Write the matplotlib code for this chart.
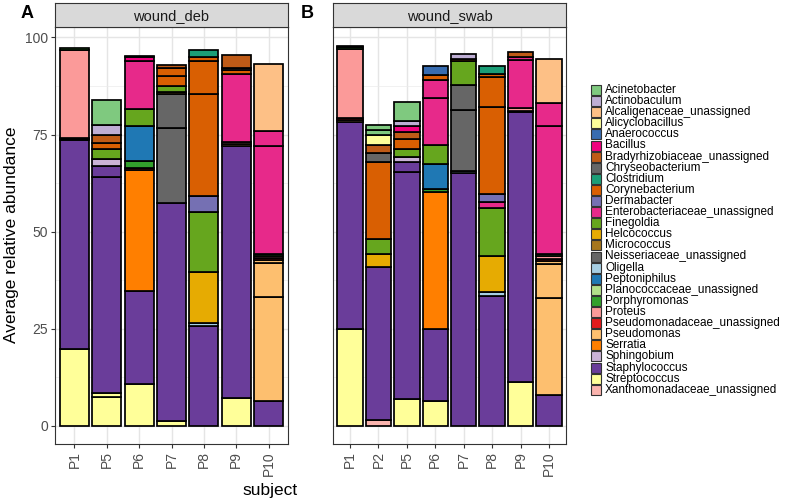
import matplotlib
matplotlib.use('Agg')
import matplotlib.pyplot as plt
from matplotlib.patches import Rectangle
import numpy as np

plt.rcParams['font.family'] = ['Liberation Sans', 'DejaVu Sans']

genera = ['Acinetobacter', 'Actinobaculum', 'Alcaligenaceae_unassigned', 'Alicyclobacillus',
          'Anaerococcus', 'Bacillus', 'Bradyrhizobiaceae_unassigned', 'Chryseobacterium',
          'Clostridium', 'Corynebacterium', 'Dermabacter', 'Enterobacteriaceae_unassigned',
          'Finegoldia', 'Helcococcus', 'Micrococcus', 'Neisseriaceae_unassigned', 'Oligella',
          'Peptoniphilus', 'Planococcaceae_unassigned', 'Porphyromonas', 'Proteus',
          'Pseudomonadaceae_unassigned', 'Pseudomonas', 'Serratia', 'Sphingobium',
          'Staphylococcus', 'Streptococcus', 'Xanthomonadaceae_unassigned']
colors = ['#7FC97F', '#BEAED4', '#FDC086', '#FFFF99', '#386CB0', '#F0027F', '#BF5B17', '#666666',
          '#1B9E77', '#D95F02', '#7570B3', '#E7298A', '#66A61E', '#E6AB02', '#A6761D', '#666666',
          '#A6CEE3', '#1F78B4', '#B2DF8A', '#33A02C', '#FB9A99', '#E31A1C', '#FDBF6F', '#FF7F00',
          '#CAB2D6', '#6A3D9A', '#FFFF99', '#FBB4AE']
gcol = dict(zip(genera, colors))

deb_subjects = ['P1', 'P5', 'P6', 'P7', 'P8', 'P9', 'P10']
swab_subjects = ['P1', 'P2', 'P5', 'P6', 'P7', 'P8', 'P9', 'P10']

# segments bottom -> top, one entry per sample contribution
deb_P1 = [('Streptococcus', 19.8), ('Staphylococcus', 53.8), ('Pseudomonas', 0.3),
          ('Pseudomonadaceae_unassigned', 0.3), ('Proteus', 22.6), ('Porphyromonas', 0.4)]
deb_P5 = [('Streptococcus', 7.4), ('Streptococcus', 1.0), ('Staphylococcus', 55.7),
          ('Staphylococcus', 2.7), ('Sphingobium', 2.0), ('Finegoldia', 2.6),
          ('Corynebacterium', 1.4), ('Bradyrhizobiaceae_unassigned', 2.2),
          ('Actinobaculum', 2.6), ('Acinetobacter', 6.3)]
deb_P6 = [('Streptococcus', 10.8), ('Staphylococcus', 24.0), ('Serratia', 31.1),
          ('Pseudomonadaceae_unassigned', 0.4), ('Porphyromonas', 1.9), ('Peptoniphilus', 8.9),
          ('Finegoldia', 4.5), ('Enterobacteriaceae_unassigned', 12.4), ('Bacillus', 0.9),
          ('Bacillus', 0.3)]
deb_P7 = [('Streptococcus', 1.2), ('Staphylococcus', 56.1), ('Neisseriaceae_unassigned', 19.4),
          ('Neisseriaceae_unassigned', 8.7), ('Micrococcus', 0.5), ('Finegoldia', 1.7),
          ('Corynebacterium', 2.6), ('Corynebacterium', 2.0), ('Bradyrhizobiaceae_unassigned', 0.7)]
deb_P8 = [('Staphylococcus', 25.6), ('Oligella', 0.9), ('Helcococcus', 13.2), ('Finegoldia', 15.4),
          ('Dermabacter', 4.1), ('Corynebacterium', 26.2), ('Corynebacterium', 8.6),
          ('Corynebacterium', 0.9), ('Clostridium', 1.9)]
deb_P9 = [('Streptococcus', 7.1), ('Staphylococcus', 65.0), ('Pseudomonas', 0.5), ('Proteus', 0.5),
          ('Enterobacteriaceae_unassigned', 17.5), ('Corynebacterium', 1.1),
          ('Chryseobacterium', 0.5), ('Bradyrhizobiaceae_unassigned', 3.2)]
deb_P10 = [('Staphylococcus', 6.5), ('Pseudomonas', 26.6), ('Pseudomonas', 8.8), ('Pseudomonas', 0.9),
           ('Pseudomonadaceae_unassigned', 0.5), ('Proteus', 0.5), ('Porphyromonas', 0.5),
           ('Enterobacteriaceae_unassigned', 27.7), ('Enterobacteriaceae_unassigned', 4.0),
           ('Alcaligenaceae_unassigned', 17.1)]

swab_P1 = [('Streptococcus', 24.9), ('Staphylococcus', 53.4), ('Pseudomonas', 0.5),
           ('Pseudomonadaceae_unassigned', 0.4), ('Proteus', 17.9), ('Porphyromonas', 0.4),
           ('Planococcaceae_unassigned', 0.3)]
swab_P2 = [('Xanthomonadaceae_unassigned', 1.4), ('Staphylococcus', 39.6), ('Helcococcus', 3.3),
           ('Finegoldia', 3.8), ('Corynebacterium', 19.8), ('Chryseobacterium', 2.3),
           ('Bradyrhizobiaceae_unassigned', 2.1), ('Alicyclobacillus', 2.5),
           ('Acinetobacter', 1.3), ('Acinetobacter', 1.5)]
swab_P5 = [('Streptococcus', 6.9), ('Staphylococcus', 58.4), ('Staphylococcus', 2.6),
           ('Sphingobium', 1.4), ('Finegoldia', 1.9), ('Corynebacterium', 2.6),
           ('Bradyrhizobiaceae_unassigned', 1.9), ('Bacillus', 1.5), ('Actinobaculum', 1.2),
           ('Acinetobacter', 5.0)]
swab_P6 = [('Streptococcus', 6.4), ('Staphylococcus', 18.5), ('Serratia', 35.3), ('Porphyromonas', 0.7),
           ('Peptoniphilus', 6.5), ('Finegoldia', 4.9), ('Enterobacteriaceae_unassigned', 12.0),
           ('Enterobacteriaceae_unassigned', 4.8), ('Corynebacterium', 1.3), ('Anaerococcus', 2.2)]
swab_P7 = [('Staphylococcus', 65.0), ('Oligella', 0.7), ('Neisseriaceae_unassigned', 15.7),
           ('Neisseriaceae_unassigned', 6.4), ('Finegoldia', 6.2), ('Corynebacterium', 0.5),
           ('Actinobaculum', 1.3)]
swab_P8 = [('Staphylococcus', 33.5), ('Oligella', 1.1), ('Helcococcus', 9.2), ('Finegoldia', 12.4),
           ('Enterobacteriaceae_unassigned', 1.4), ('Dermabacter', 2.1), ('Corynebacterium', 22.5),
           ('Corynebacterium', 7.6), ('Corynebacterium', 0.8), ('Clostridium', 2.0)]
swab_P9 = [('Streptococcus', 11.2), ('Staphylococcus', 69.5), ('Pseudomonas', 0.5), ('Proteus', 0.6),
           ('Enterobacteriaceae_unassigned', 12.4), ('Enterobacteriaceae_unassigned', 0.8),
           ('Bradyrhizobiaceae_unassigned', 1.3)]
swab_P10 = [('Staphylococcus', 8.0), ('Pseudomonas', 24.9), ('Pseudomonas', 8.7), ('Pseudomonas', 0.9),
            ('Pseudomonadaceae_unassigned', 0.6), ('Proteus', 0.6), ('Porphyromonas', 0.6),
            ('Enterobacteriaceae_unassigned', 32.9), ('Enterobacteriaceae_unassigned', 5.9),
            ('Alcaligenaceae_unassigned', 11.4)]

deb_bars = [deb_P1, deb_P5, deb_P6, deb_P7, deb_P8, deb_P9, deb_P10]
swab_bars = [swab_P1, swab_P2, swab_P5, swab_P6, swab_P7, swab_P8, swab_P9, swab_P10]

W, H = 790, 501
fig = plt.figure(figsize=(7.9, 5.01), dpi=100)

def px(x0, y0, w, h):
    # pixel box (top-left origin) -> figure fraction
    return [x0 / W, 1 - (y0 + h) / H, w / W, h / H]

def panel(rect, strip_rect, title, subjects, bars, show_y):
    ax = fig.add_axes(rect)
    for i, segs in enumerate(bars):
        b = 0
        for g, v in segs:
            ax.bar(i, v, bottom=b, width=0.9, color=gcol[g], edgecolor='black', linewidth=1.25, zorder=3)
            b += v
    ax.set_xlim(-0.6, len(subjects) - 0.4)
    ax.set_ylim(-4.65, 102.7)
    ax.set_xticks(range(len(subjects)))
    ax.set_xticklabels(subjects, rotation=90, va='top', ha='center')
    ax.set_yticks([0, 25, 50, 75, 100])
    ax.set_yticks([12.5, 37.5, 62.5, 87.5], minor=True)
    ax.grid(which='major', color='#E5E5E5', linewidth=1.0, zorder=0)
    ax.grid(which='minor', axis='y', color='#EBEBEB', linewidth=0.5, zorder=0)
    ax.tick_params(which='minor', left=False)
    ax.tick_params(which='major', length=3, width=0.8, color='#333333', labelcolor='#4D4D4D',
                   labelsize=10, pad=2)
    if not show_y:
        ax.tick_params(left=False, labelleft=False)
    for s in ax.spines.values():
        s.set_color('#333333')
        s.set_linewidth(0.8)
    st = fig.add_axes(strip_rect)
    st.set_facecolor('#D9D9D9')
    st.set_xticks([])
    st.set_yticks([])
    for s in st.spines.values():
        s.set_color('#333333')
        s.set_linewidth(0.8)
    st.text(0.5, 0.45, title, ha='center', va='center', fontsize=10.5, color='#1A1A1A',
            transform=st.transAxes)
    return ax

axA = panel(px(55, 27, 233, 417), px(55, 3, 233, 24), 'wound_deb', deb_subjects, deb_bars, True)
axB = panel(px(333, 27, 233, 417), px(333, 3, 233, 24), 'wound_swab', swab_subjects, swab_bars, False)

fig.text(27 / W, 1 - 14 / H, 'A', fontsize=13, fontweight='bold', ha='center', va='center')
fig.text(307 / W, 1 - 14 / H, 'B', fontsize=13, fontweight='bold', ha='center', va='center')
fig.text(12 / W, 1 - 235 / H, 'Average relative abundance', rotation=90, fontsize=12.5,
         ha='center', va='center')
fig.text(270 / W, 1 - 490 / H, 'subject', fontsize=12.5, ha='center', va='center')

# legend
for i, g in enumerate(genera):
    yc = 90 + 11.1 * i
    fig.patches.append(Rectangle((591 / W, 1 - (yc + 5) / H), 10 / W, 10 / H,
                                 facecolor=gcol[g], edgecolor='#333333', linewidth=0.8,
                                 transform=fig.transFigure))
    fig.text(605 / W, 1 - yc / H, g, fontsize=8.5, ha='left', va='center')

fig.savefig('out.png', dpi=100)
